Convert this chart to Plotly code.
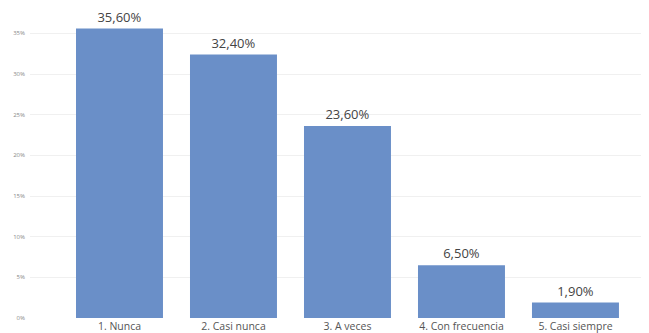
import plotly.graph_objects as go

categories = ["1. Nunca", "2. Casi nunca", "3. A veces", "4. Con frecuencia", "5. Casi siempre"]
values = [35.6, 32.4, 23.6, 6.5, 1.9]
y_tick_vals = [0, 5, 10, 15, 20, 25, 30, 35]
y_tick_text = ["0%", "5%", "10%", "15%", "20%", "25%", "30%", "35%"]

labels = [f"{v:.2f}%".replace(".", ",") for v in values]

fig = go.Figure(go.Bar(
    x=categories, y=values, text=labels, textposition="outside",
    marker=dict(color="#6a8fc8", line=dict(width=0)),
    textfont=dict(family="Open Sans", size=13, color="#444444"),
    cliponaxis=False, width=0.763,
))

# page body has an 8px margin, so the figure is 8px smaller than the window
fig.update_layout(
    width=641, height=325,
    margin=dict(l=22, r=0, t=1, b=15),
    plot_bgcolor="white", paper_bgcolor="white",
    showlegend=False,
    font=dict(family="Open Sans", color="#555555"),
    xaxis=dict(range=[-0.785, 4.645], showgrid=False, showline=False, ticks="",
               automargin=False, ticklabelstandoff=0,
               tickfont=dict(size=10.5, color="#555555")),
    yaxis=dict(range=[0, 38], tickvals=y_tick_vals, ticktext=y_tick_text,
               showgrid=True, gridcolor="#f0f0f0", gridwidth=1, zeroline=False,
               showline=False, ticks="", ticklabelstandoff=4, automargin=False,
               tickfont=dict(size=6, color="#888888")),
)

fig.write_html("out.html")
